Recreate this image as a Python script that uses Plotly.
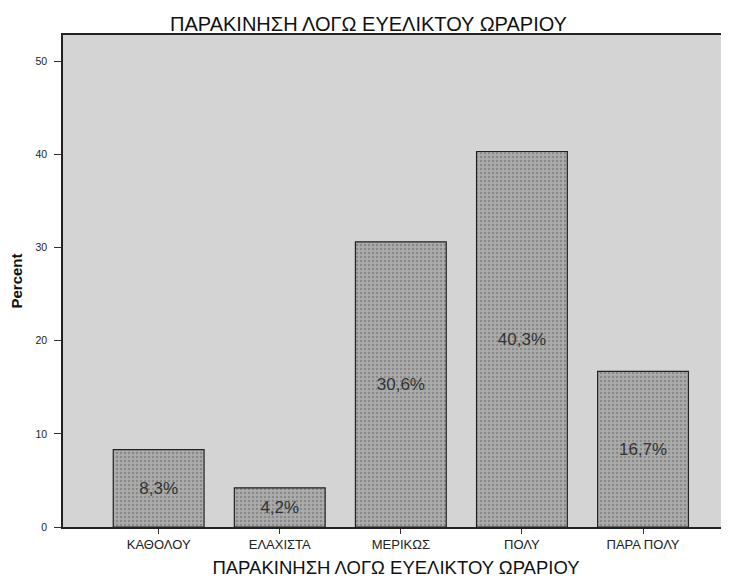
import plotly.graph_objects as go

categories = ["ΚΑΘΟΛΟΥ", "ΕΛΑΧΙΣΤΑ", "ΜΕΡΙΚΩΣ", "ΠΟΛΥ", "ΠΑΡΑ ΠΟΛΥ"]
percent = [8.3, 4.2, 30.6, 40.3, 16.7]
bar_labels = ["8,3%", "4,2%", "30,6%", "40,3%", "16,7%"]
y_ticks = [0, 10, 20, 30, 40, 50]

title_text = "ΠΑΡΑΚΙΝΗΣΗ ΛΟΓΩ ΕΥΕΛΙΚΤΟΥ ΩΡΑΡΙΟΥ"

fig = go.Figure()
fig.add_trace(go.Bar(
    x=list(range(len(categories))),
    y=percent,
    width=0.75,
    text=bar_labels,
    textposition="inside",
    insidetextanchor="middle",
    textangle=0,
    textfont=dict(family="Liberation Sans, Arial, sans-serif", size=17, color="#333333"),
    marker=dict(color="#a0a0a0", line=dict(color="#222222", width=1.2),
                pattern=dict(shape=".", fgcolor="#666666", bgcolor="#acacac", size=4, solidity=0.3)),
    showlegend=False,
))

fig.update_layout(
    width=721, height=573,
    margin=dict(l=55, r=0, t=27, b=54, autoexpand=False),
    paper_bgcolor="white",
    plot_bgcolor="#d4d4d4",
    title=dict(text=title_text, x=0.5, xref="container", xanchor="center", y=0.972, yanchor="middle",
               font=dict(family="Liberation Sans, Arial, sans-serif", size=20, color="#111111")),
    font=dict(family="Liberation Sans, Arial, sans-serif", color="#111111"),
    bargap=0.25,
)

fig.update_xaxes(
    tickmode="array", tickvals=list(range(len(categories))), ticktext=categories,
    range=[-0.79, 4.71],
    automargin=False,
    showgrid=False, zeroline=False,
    showline=True, linecolor="#222222", linewidth=1.5, mirror=True,
    ticks="outside", ticklen=5, tickcolor="#333333",
    tickfont=dict(size=13, color="#222222"),
    title=dict(text=title_text, font=dict(size=18.5, color="#111111"), standoff=10),
)
fig.update_yaxes(
    tickmode="array", tickvals=y_ticks,
    range=[0, 52.8],
    automargin=False,
    showgrid=False, zeroline=False,
    showline=True, linecolor="#222222", linewidth=1.5,
    ticks="outside", ticklen=7, tickcolor="#333333",
    ticklabelstandoff=5,
    tickfont=dict(size=10.5, color="#222222"),
    title=dict(text="<b>Percent</b>", font=dict(size=15, color="#111111"), standoff=12),
)

fig.write_html("out.html")
